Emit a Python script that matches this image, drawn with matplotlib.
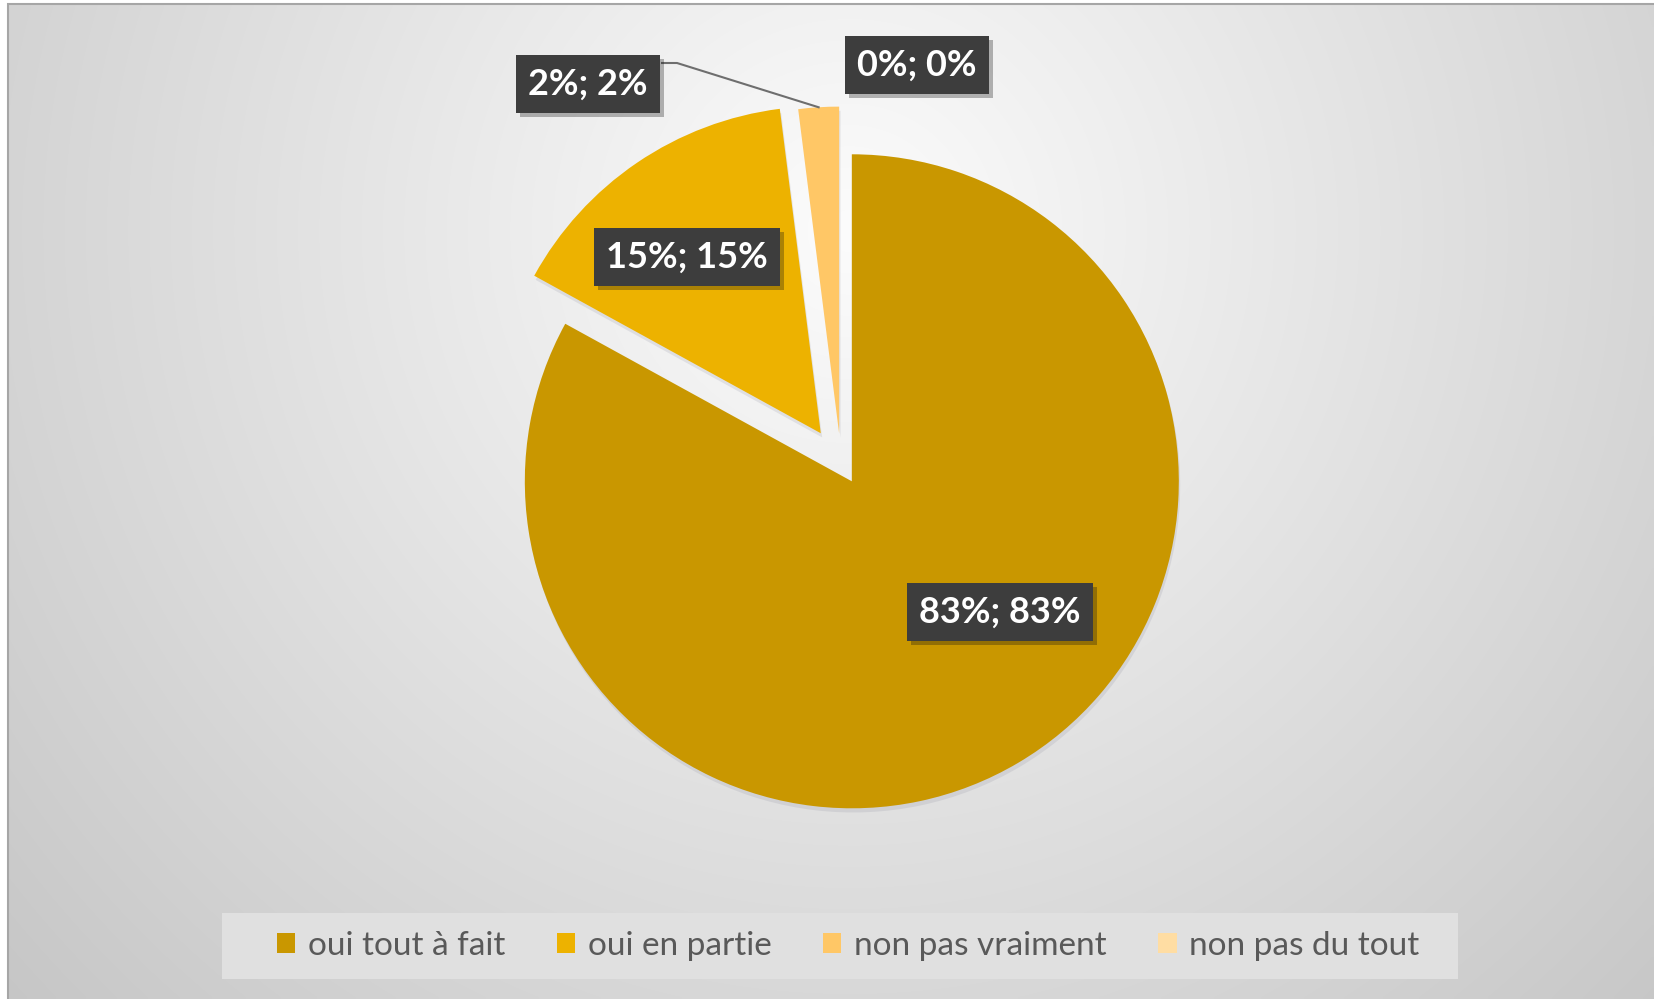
import numpy as np
import matplotlib

matplotlib.use("Agg")
import matplotlib.pyplot as plt
import matplotlib.patheffects as pe
from matplotlib.patches import Patch, Rectangle

# data
categories = ["oui tout à fait", "oui en partie", "non pas vraiment", "non pas du tout"]
values = [83, 15, 2, 0]
colors = ["#C99700", "#EDB200", "#FFC766", "#FFDDA3"]

# layout (pixels, y measured from the top of the image)
W, H = 1654, 999
pie_center = (841, 463)
pie_radius = 327
explode_frac = [0.065, 0.11, 0.09, 0.0]
label_pos = [(1000, 612), (687, 257), (588, 84), (917, 65)]
legend_box = (222, 913, 1458, 979)

plt.rcParams["font.family"] = ["Lato", "DejaVu Sans"]

fig = plt.figure(figsize=(W / 100, H / 100), dpi=100)
ax = fig.add_axes([0, 0, 1, 1])


def fy(y):
    """pixel row -> data y"""
    return H - y


# radial grey background of the chart area
xx, yy = np.meshgrid(np.linspace(8, W, 400), np.linspace(4, H, 250))
d = np.sqrt(((xx - 850) / 1000) ** 2 + ((yy - 230) / 1000) ** 2)
shade = np.clip(252 - 47 * d, 195, 252) / 255
ax.imshow(
    np.dstack([shade, shade, shade]),
    extent=(8, W, fy(H), fy(4)),
    origin="upper",
    interpolation="bilinear",
    zorder=0,
)
ax.add_patch(
    Rectangle((8, fy(H) - 2), W, H - 4 + 2, fill=False, ec="#A6A6A6", lw=1.5, zorder=1)
)

wedges, _ = ax.pie(
    values,
    colors=colors,
    explode=[e * pie_radius for e in explode_frac],
    startangle=90,
    counterclock=False,
    radius=pie_radius,
    center=(pie_center[0], fy(pie_center[1])),
    wedgeprops=dict(linewidth=0),
)
for w in wedges:
    w.set_zorder(2)
    w.set_path_effects(
        [pe.SimplePatchShadow(offset=(1, -3), shadow_rgbFace="#8A8A9A", alpha=0.18),
         pe.Normal()]
    )

ax.set_xlim(0, W)
ax.set_ylim(0, H)
ax.set_aspect("auto")
ax.axis("off")

# data labels
for v, (lx, ly) in zip(values, label_pos):
    t = ax.text(
        lx,
        fy(ly),
        f"{v}%; {v}%",
        ha="center",
        va="center",
        color="white",
        fontsize=26,
        fontweight="bold",
        zorder=5,
        bbox=dict(boxstyle="square,pad=0.34", fc="#3D3D3D", ec="none"),
    )
    t.get_bbox_patch().set_path_effects(
        [pe.SimplePatchShadow(offset=(3, -3), alpha=0.3), pe.Normal()]
    )

# leader line for the small slice
w2 = wedges[2]
tm = np.radians((w2.theta1 + w2.theta2) / 2)
tip = (w2.center[0] + w2.r * np.cos(tm), w2.center[1] + w2.r * np.sin(tm))
ax.plot(
    [662, 677, tip[0]],
    [fy(63), fy(63), tip[1]],
    color="#6E6E6E",
    lw=1.5,
    zorder=4,
)

# legend panel
lx0, ly0, lx1, ly1 = legend_box
ax.add_patch(
    Rectangle((lx0, fy(ly1)), lx1 - lx0, ly1 - ly0, fc="#E0E0E0", ec="none", zorder=3)
)
handles = [Patch(facecolor=c, edgecolor="none") for c in colors]
leg = fig.legend(
    handles,
    categories,
    loc="center",
    bbox_to_anchor=(848 / W, 1 - 946 / H),
    ncol=4,
    frameon=False,
    fontsize=24,
    handlelength=0.55,
    handleheight=0.55,
    handletextpad=0.38,
    columnspacing=1.55,
    borderpad=0,
    borderaxespad=0,
)
for txt in leg.get_texts():
    txt.set_color("#595959")

fig.savefig("out.png", dpi=100)
